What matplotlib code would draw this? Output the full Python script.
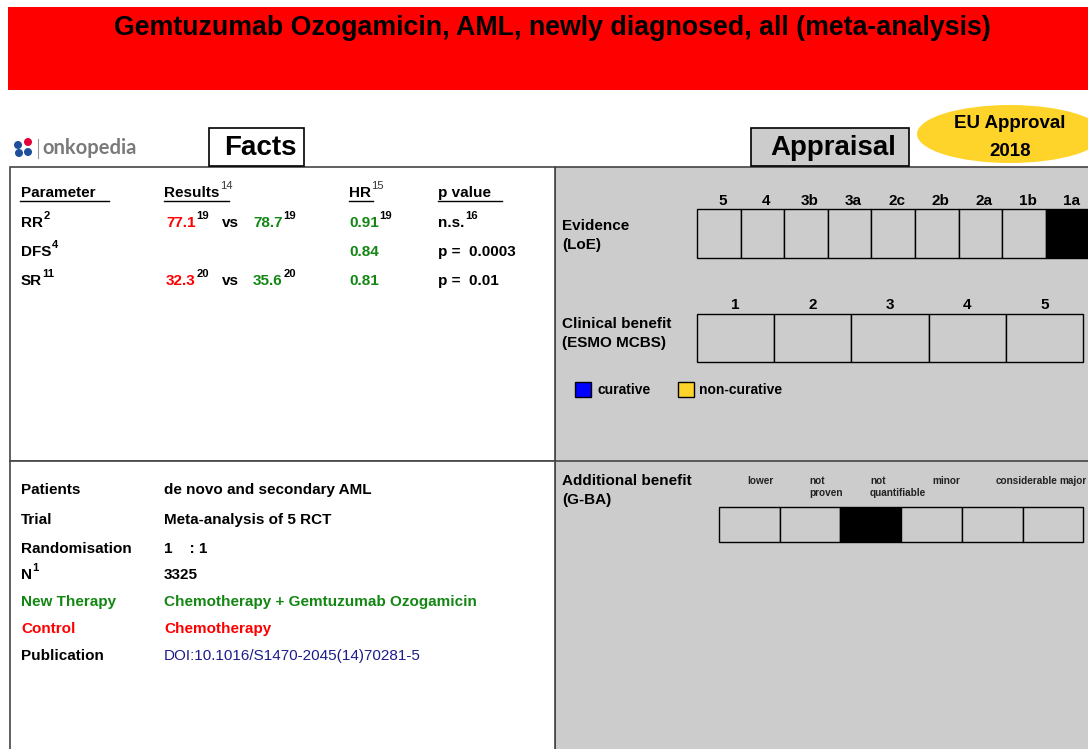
import matplotlib
matplotlib.use("Agg")
import matplotlib.pyplot as plt
from matplotlib.patches import Rectangle, Ellipse, Circle

plt.rcParams['font.family'] = ['Liberation Sans', 'DejaVu Sans']

title = "Gemtuzumab Ozogamicin, AML, newly diagnosed, all (meta-analysis)"

# facts table
fact_headers = ["Parameter", "Results", "HR", "p value"]
fact_header_sups = ["", "14", "15", ""]
fact_params = ["RR", "DFS", "SR"]
fact_param_sups = ["2", "4", "11"]
control_vals = ["77.1", "", "32.3"]
control_sups = ["19", "", "20"]
new_vals = ["78.7", "", "35.6"]
new_sups = ["19", "", "20"]
hr_vals = ["0.91", "0.84", "0.81"]
hr_sups = ["19", "", ""]
p_vals = ["n.s.", "p =  0.0003", "p =  0.01"]
p_sups = ["16", "", ""]

# trial info
info_labels = ["Patients", "Trial", "Randomisation", "N", "New Therapy", "Control", "Publication"]
info_values = ["de novo and secondary AML", "Meta-analysis of 5 RCT", "1    : 1", "3325",
               "Chemotherapy + Gemtuzumab Ozogamicin", "Chemotherapy",
               "DOI:10.1016/S1470-2045(14)70281-5"]
label_colors = ["black", "black", "black", "black", "#138613", "#ff0000", "black"]
value_colors = ["black", "black", "black", "black", "#138613", "#ff0000", "#1c1c8c"]

# appraisal scales
loe_levels = ["5", "4", "3b", "3a", "2c", "2b", "2a", "1b", "1a"]
loe_selected = "1a"
esmo_levels = ["1", "2", "3", "4", "5"]
esmo_selected = None
gba_levels = ["lower", "not\nproven", "not\nquantifiable", "minor", "considerable", "major"]
gba_selected = "not\nquantifiable"

RED = "#ff0000"
GREEN = "#138613"
GRAY = "#cccccc"

fig = plt.figure(figsize=(10.88, 7.49), dpi=100)
ax = fig.add_axes([0, 0, 1, 1])
ax.set_xlim(0, 1088)
ax.set_ylim(749, 0)
ax.axis("off")
fig.canvas.draw()
renderer = fig.canvas.get_renderer()


def txt(x, y, s, size=11, color="black", weight="bold", sup=None, sup_color=None,
        sup_weight="bold", **kw):
    t = ax.text(x, y, s, fontsize=size, color=color, fontweight=weight,
                va="center", ha="left", **kw)
    if sup:
        bb = t.get_window_extent(renderer)
        x_end = ax.transData.inverted().transform((bb.x1, bb.y0))[0]
        ax.text(x_end + 0.5, y - 7, sup, fontsize=size * 0.74,
                color=sup_color or color, fontweight=sup_weight, va="center", ha="left")
    return t


# banner
ax.add_patch(Rectangle((8, 7), 1090, 83, facecolor=RED, edgecolor="none"))
ax.text(552, 28, title, fontsize=19.3, fontweight="bold", ha="center", va="center")

# logo
for (cx, cy, c) in [(18, 145, "#1f4e9c"), (28, 142, "#e4003a"), (19, 153, "#1f4e9c"), (28, 152, "#1f4e9c")]:
    ax.add_patch(Circle((cx, cy), 4.0, facecolor=c, edgecolor="none"))
ax.plot([38, 38], [139, 158], color="#999999", lw=0.8)
ax.text(42, 148, "onkopedia", fontsize=14.5, color="#7a7a7a", fontweight="bold",
        va="center", ha="left", family=["Lato", "DejaVu Sans"])

# panels
ax.add_patch(Rectangle((555, 167), 540, 590, facecolor=GRAY, edgecolor="#444444", lw=1.2))
ax.add_patch(Rectangle((10, 167), 545, 294, facecolor="white", edgecolor="#444444", lw=1.2))
ax.add_patch(Rectangle((10, 461), 545, 300, facecolor="white", edgecolor="#444444", lw=1.2))
ax.plot([555, 1088], [461, 461], color="#444444", lw=1.2)

# tabs
ax.add_patch(Rectangle((209, 128), 95, 38, facecolor="white", edgecolor="black", lw=1.2))
ax.text(260, 148, "Facts", fontsize=20, fontweight="bold", ha="center", va="center")
ax.add_patch(Rectangle((751, 128), 158, 38, facecolor=GRAY, edgecolor="black", lw=1.2))
ax.text(833, 148, "Appraisal", fontsize=20, fontweight="bold", ha="center", va="center")

ax.add_patch(Ellipse((1010, 134), 186, 58, facecolor="#ffd42a", edgecolor="none"))
ax.text(1010, 123, "EU Approval", fontsize=13.5, fontweight="bold", ha="center", va="center")
ax.text(1010, 151, "2018", fontsize=13.5, fontweight="bold", ha="center", va="center")

# facts headers
hx = [21, 164, 349, 438]
ul = [(20, 109), (164, 229), (349, 373), (438, 502)]
for x, h, s, (u0, u1) in zip(hx, fact_headers, fact_header_sups, ul):
    txt(x, 193, h, sup=s, sup_weight="normal", sup_color="#333333")
    ax.plot([u0, u1], [201, 201], color="black", lw=1)

row_y = [223, 252, 281]
for i, y in enumerate(row_y):
    txt(21, y, fact_params[i], sup=fact_param_sups[i])
    if control_vals[i]:
        txt(166, y, control_vals[i], color=RED, sup=control_sups[i], sup_color="black")
        txt(222, y, "vs")
        txt(253, y, new_vals[i], color=GREEN, sup=new_sups[i], sup_color="black")
    txt(349, y, hr_vals[i], color=GREEN, sup=hr_sups[i], sup_color="black")
    txt(438, y, p_vals[i], sup=p_sups[i])

# trial info
info_y = [490, 520, 549, 575, 602, 629, 656]
for lab, val, lc, vc, y in zip(info_labels, info_values, label_colors, value_colors, info_y):
    txt(21, y, lab, color=lc, sup="1" if lab == "N" else None, sup_color="black")
    txt(164, y, val, color=vc, weight="normal" if val.startswith("DOI") else "bold")

# evidence
txt(562, 226, "Evidence", size=11)
txt(562, 245, "(LoE)", size=11)
loe_w = 43.6
for i, lev in enumerate(loe_levels):
    x0 = 697 + i * loe_w
    fc = "black" if lev == loe_selected else GRAY
    ax.add_patch(Rectangle((x0, 209), loe_w, 49, facecolor=fc, edgecolor="black", lw=1))
    ax.text(x0 + loe_w / 2 + 4, 201, lev, fontsize=11, fontweight="bold", ha="center", va="center")

# clinical benefit
txt(562, 324, "Clinical benefit", size=11)
txt(562, 343, "(ESMO MCBS)", size=11)
esmo_w = 77.2
for i, lev in enumerate(esmo_levels):
    x0 = 697 + i * esmo_w
    fc = "black" if lev == esmo_selected else GRAY
    ax.add_patch(Rectangle((x0, 314), esmo_w, 48, facecolor=fc, edgecolor="black", lw=1))
    ax.text(x0 + esmo_w / 2, 305, lev, fontsize=11, fontweight="bold", ha="center", va="center")

ax.add_patch(Rectangle((575, 382), 16, 15, facecolor="#0000ff", edgecolor="black", lw=1))
txt(597, 390, "curative", size=10)
ax.add_patch(Rectangle((678, 382), 16, 15, facecolor="#ffd42a", edgecolor="black", lw=1))
txt(699, 390, "non-curative", size=10)

# additional benefit
txt(562, 481, "Additional benefit", size=11)
txt(562, 500, "(G-BA)", size=11)
gba_w = 60.7
gba_lx = [747, 809, 870, 932, 996, 1059]
for i, lev in enumerate(gba_levels):
    x0 = 719 + i * gba_w
    fc = "black" if lev == gba_selected else GRAY
    ax.add_patch(Rectangle((x0, 507), gba_w, 35, facecolor=fc, edgecolor="black", lw=1))
    ax.text(gba_lx[i], 476, lev, fontsize=7.2, fontweight="bold", ha="left", va="top",
            color="#222222", linespacing=1.3)

fig.savefig("out.png", dpi=100)
